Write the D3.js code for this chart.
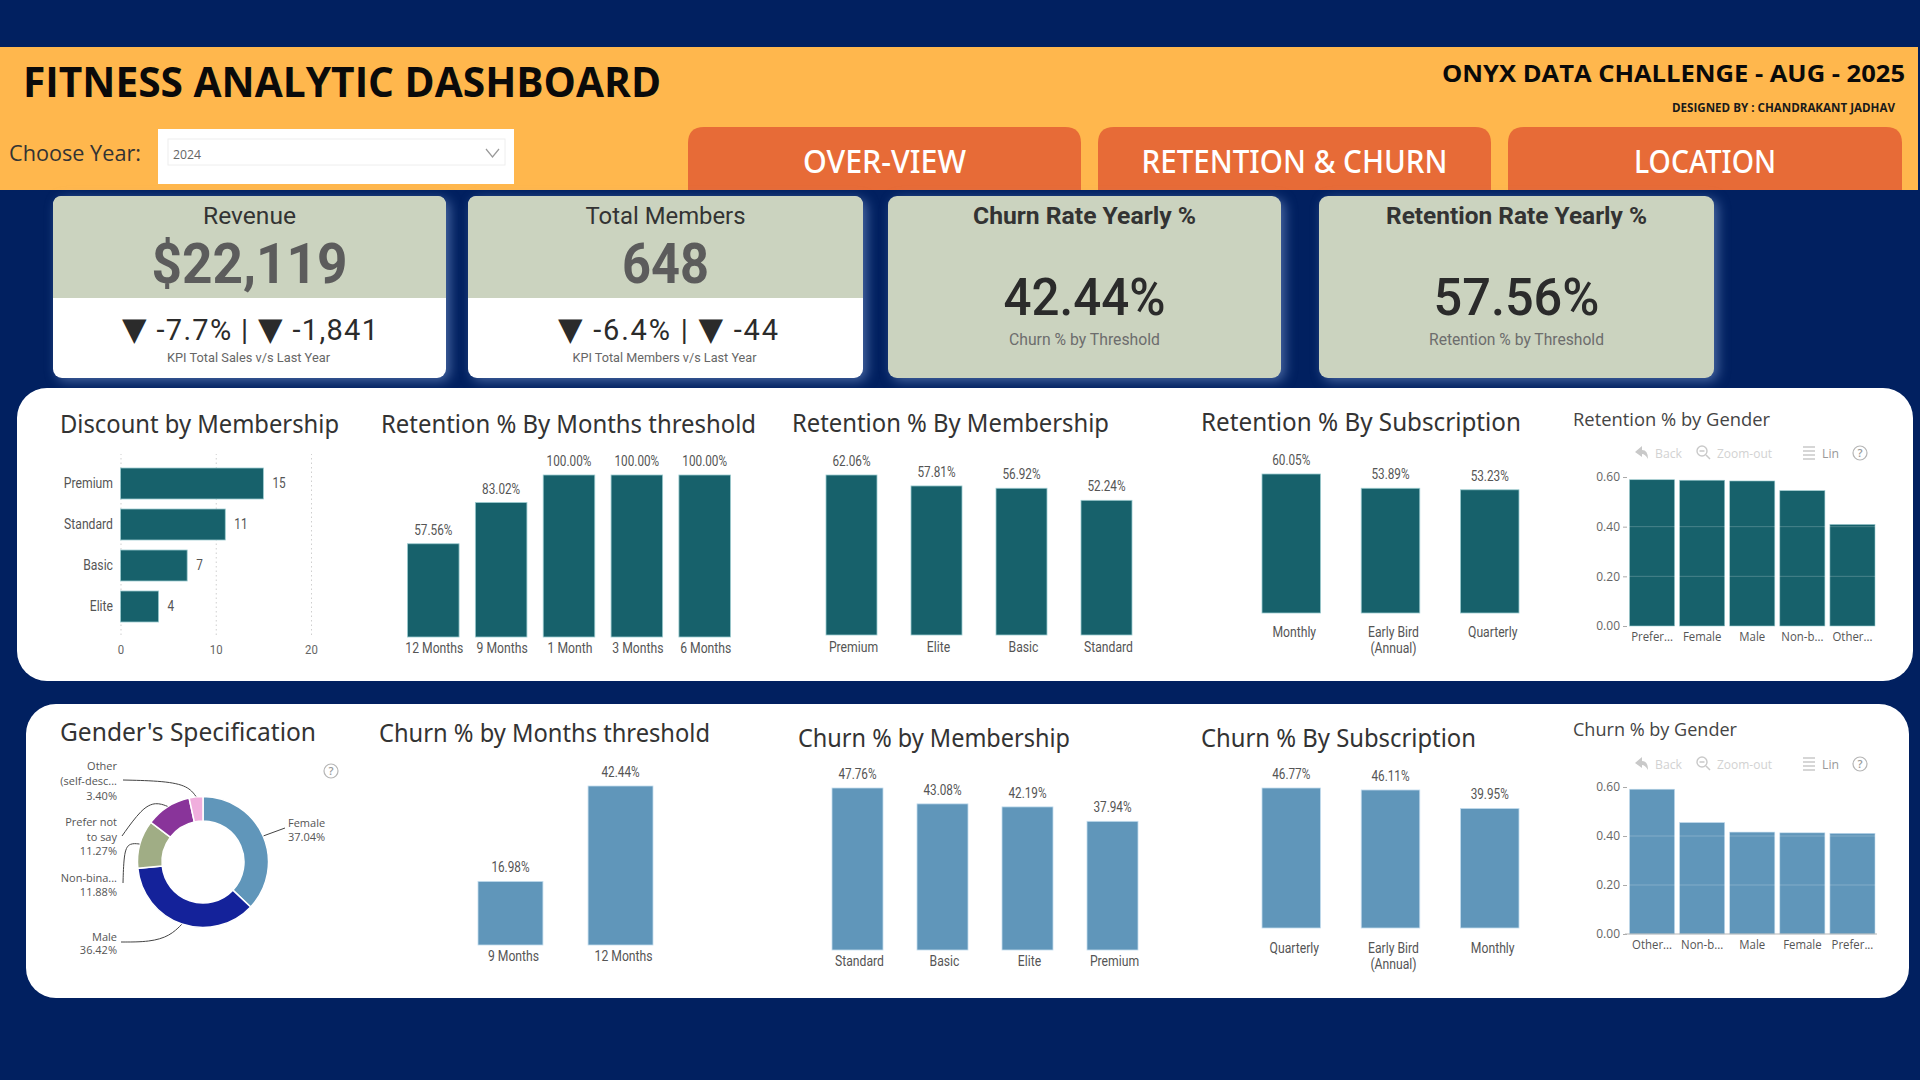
<!DOCTYPE html>
<html>
<head>
<meta charset="utf-8">
<title>Fitness Analytic Dashboard</title>
<script src="https://cdnjs.cloudflare.com/ajax/libs/d3/7.8.5/d3.min.js"></script>
<style>
  html, body { margin: 0; padding: 0; background: #012060; overflow: hidden; }
  svg { display: block; }
</style>
</head>
<body>
<svg id="dash" width="1920" height="1080"></svg>
<script>
// ---- Dashboard values ----
const discountCats = ["Premium", "Standard", "Basic", "Elite"];
const discountValues = [15, 11, 7, 4];
const discountTicks = [0, 10, 20];

const retentionMonthCats = ["12 Months", "9 Months", "1 Month", "3 Months", "6 Months"];
const retentionMonthValues = [57.56, 83.02, 100, 100, 100];
const retentionMemberCats = ["Premium", "Elite", "Basic", "Standard"];
const retentionMemberValues = [62.06, 57.81, 56.92, 52.24];
const retentionSubCats = ["Monthly", "Early Bird (Annual)", "Quarterly"];
const retentionSubValues = [60.05, 53.89, 53.23];
const retentionGenderCats = ["Prefer...", "Female", "Male", "Non-b...", "Other..."];
const retentionGenderValues = [0.589, 0.587, 0.584, 0.545, 0.409];

const genderCats = ["Female", "Male", "Non-binary", "Prefer not to say", "Other (self-described)"];
const genderValues = [37.04, 36.42, 11.88, 11.27, 3.40];

const churnMonthCats = ["9 Months", "12 Months"];
const churnMonthValues = [16.98, 42.44];
const churnMemberCats = ["Standard", "Basic", "Elite", "Premium"];
const churnMemberValues = [47.76, 43.08, 42.19, 37.94];
const churnSubCats = ["Quarterly", "Early Bird (Annual)", "Monthly"];
const churnSubValues = [46.77, 46.11, 39.95];
const churnGenderCats = ["Other...", "Non-b...", "Male", "Female", "Prefer..."];
const churnGenderValues = [0.591, 0.455, 0.416, 0.413, 0.411];
const genderAxisTicks = [0, 0.2, 0.4, 0.6];

// ---- Palette and type ----
const NAVY = "#012060", AMBER = "#FFB74D", ORANGE = "#E76B37", SAGE = "#CBD3BF";
const TEAL = "#17616B", TEAL_EDGE = "#9CCBCF", BLUE = "#6096BA", BLUE_EDGE = "#C4DDEE";
const HEAD = "'Open Sans', 'Noto Sans', sans-serif";
const TITLE = "'Noto Sans', 'Open Sans', sans-serif";
const NUM = "Roboto, 'Noto Sans', sans-serif";
const UI = "'Open Sans', 'Noto Sans', sans-serif";
const CONDENSE = 0.84;

const svg = d3.select("#dash");

// Places a text by its left edge, centre or right edge; width squeezes it to a measured run.
function label(parent, str, x, y, o = {}) {
  const t = parent.append("text")
    .attr("x", x).attr("y", y)
    .attr("text-anchor", o.anchor || "start")
    .attr("font-family", o.font || NUM)
    .attr("font-size", o.size || 14)
    .attr("font-weight", o.weight || 400)
    .attr("fill", o.fill || "#333")
    .text(str);
  if (o.width) t.attr("textLength", o.width).attr("lengthAdjust", "spacingAndGlyphs");
  return t;
}

// Narrows text elements in place, keeping the glyph height.
function condense(sel, factor = CONDENSE) {
  sel.each(function () {
    d3.select(this)
      .attr("textLength", this.getComputedTextLength() * factor)
      .attr("lengthAdjust", "spacingAndGlyphs");
  });
}

// Rounded-top shape for the navigation tabs and the upper half of the KPI cards.
function topRounded(x0, y0, x1, y1, r) {
  return `M${x0},${y1}V${y0 + r}Q${x0},${y0} ${x0 + r},${y0}H${x1 - r}Q${x1},${y0} ${x1},${y0 + r}V${y1}Z`;
}

// ---- Header band ----
const head = svg.append("g");
head.append("rect").attr("x", 0).attr("y", 47).attr("width", 1918).attr("height", 143).attr("fill", AMBER);
label(head, "FITNESS ANALYTIC DASHBOARD", 23, 97, { font: HEAD, size: 41, weight: 700, fill: "#0a0a0a", width: 638 });
label(head, "ONYX DATA CHALLENGE - AUG - 2025", 1442, 82, { font: HEAD, size: 23, weight: 700, fill: "#0a0a0a", width: 463 });
label(head, "DESIGNED BY : CHANDRAKANT JADHAV", 1672, 112, { font: HEAD, size: 12, weight: 700, fill: "#1a1a1a", width: 223 });
label(head, "Choose Year:", 9, 161, { font: UI, size: 22, fill: "#333", width: 132 });

head.append("rect").attr("x", 158).attr("y", 129).attr("width", 356).attr("height", 55).attr("fill", "#fff");
head.append("rect").attr("x", 168).attr("y", 139).attr("width", 337).attr("height", 26)
  .attr("fill", "#fff").attr("stroke", "#eeeeee");
label(head, "2024", 173, 159, { font: UI, size: 13, fill: "#666", width: 28 });
head.append("path").attr("d", "M486,149L492.5,157L499,149").attr("fill", "none").attr("stroke", "#999").attr("stroke-width", 1.2);

const navTabs = [
  { name: "OVER-VIEW", x0: 688, x1: 1081, w: 163 },
  { name: "RETENTION & CHURN", x0: 1098, x1: 1491, w: 306 },
  { name: "LOCATION", x0: 1508, x1: 1902, w: 142 }
];
navTabs.forEach(t => {
  head.append("path").attr("d", topRounded(t.x0, 127, t.x1, 190, 16)).attr("fill", ORANGE);
  label(head, t.name, (t.x0 + t.x1) / 2, 173, { font: TITLE, size: 32, weight: 500, fill: "#fff", anchor: "middle", width: t.w });
});

// ---- KPI cards ----
const glow = "drop-shadow(4px 3px 6px rgba(130,160,215,.55))";
function kpiSplit(c) {
  const g = svg.append("g");
  g.append("rect").attr("x", c.x0).attr("y", 196).attr("width", c.x1 - c.x0).attr("height", 182)
    .attr("rx", 9).attr("fill", "#fff").style("filter", glow);
  g.append("path").attr("d", topRounded(c.x0, 196, c.x1, 298, 9)).attr("fill", SAGE);
  const cx = (c.x0 + c.x1) / 2;
  label(g, c.title, cx, 224, { size: 23, fill: "#333", anchor: "middle", width: c.titleW });
  label(g, c.value, cx, 283, { size: 56, weight: 700, fill: "#5c5c5c", anchor: "middle", width: c.valueW });

  // Arrow glyphs come from DejaVu so they read as the large KPI triangles.
  const d = g.append("text").attr("x", c.deltaX).attr("y", 340)
    .attr("font-family", NUM).attr("font-size", 29).attr("fill", "#2b2b2b")
    .attr("textLength", c.deltaW).attr("lengthAdjust", "spacing");
  c.delta.forEach(part => {
    const s = d.append("tspan").text(part);
    if (part === "▼") s.attr("font-family", "'DejaVu Sans'").attr("font-size", 32);
  });

  label(g, c.sub, cx - 1, 362, { size: 13.5, fill: "#666", anchor: "middle", width: c.subW });
}
function kpiFull(c) {
  const g = svg.append("g");
  g.append("rect").attr("x", c.x0).attr("y", 196).attr("width", c.x1 - c.x0).attr("height", 182)
    .attr("rx", 9).attr("fill", SAGE).style("filter", glow);
  const cx = (c.x0 + c.x1) / 2;
  label(g, c.title, cx, 224, { size: 23, weight: 700, fill: "#333", anchor: "middle", width: c.titleW });
  label(g, c.value, cx, 315, { size: 52, weight: 500, fill: "#2b2b2b", anchor: "middle", width: c.valueW });
  label(g, c.sub, cx, 345, { size: 17, fill: "#6d6d6d", anchor: "middle", width: c.subW });
}
kpiSplit({ x0: 53, x1: 446, title: "Revenue", titleW: 93, value: "$22,119", valueW: 196,
  delta: ["▼", " -7.7% | ", "▼", " -1,841"], deltaX: 122, deltaW: 256, sub: "KPI Total Sales v/s Last Year", subW: 163 });
kpiSplit({ x0: 468, x1: 863, title: "Total Members", titleW: 160, value: "648", valueW: 87,
  delta: ["▼", " -6.4% | ", "▼", " -44"], deltaX: 558, deltaW: 220, sub: "KPI Total Members v/s Last Year", subW: 184 });
kpiFull({ x0: 888, x1: 1281, title: "Churn Rate Yearly %", titleW: 223, value: "42.44%", valueW: 162,
  sub: "Churn % by Threshold", subW: 151 });
kpiFull({ x0: 1319, x1: 1714, title: "Retention Rate Yearly %", titleW: 261, value: "57.56%", valueW: 166,
  sub: "Retention % by Threshold", subW: 175 });

// ---- White panels ----
svg.append("rect").attr("x", 17).attr("y", 388).attr("width", 1896).attr("height", 293).attr("rx", 30).attr("fill", "#fff");
svg.append("rect").attr("x", 26).attr("y", 704).attr("width", 1883).attr("height", 294).attr("rx", 30).attr("fill", "#fff");

const titles = [
  ["Discount by Membership", 60, 433, 279], ["Retention % By Months threshold", 381, 433, 375],
  ["Retention % By Membership", 792, 432, 317], ["Retention % By Subscription", 1201, 431, 320],
  ["Gender's Specification", 60, 741, 256], ["Churn % by Months threshold", 379, 742, 331],
  ["Churn % by Membership", 798, 747, 272], ["Churn % By Subscription", 1201, 747, 275]
];
titles.forEach(([s, x, y, w]) => label(svg, s, x, y, { font: TITLE, size: 26, fill: "#333", width: w }));
label(svg, "Retention % by Gender", 1573, 426, { font: UI, size: 18, fill: "#444", width: 197 });
label(svg, "Churn % by Gender", 1573, 736, { font: UI, size: 18, fill: "#444", width: 164 });

// ---- Column charts ----
function columnChart(c) {
  const x = d3.scaleBand().domain(c.cats).range(c.xr).paddingInner(c.pad).paddingOuter(0);
  const y = d3.scaleLinear().domain([0, c.max]).range(c.yr);
  const g = svg.append("g");
  const rows = c.cats.map((k, i) => ({ k, v: c.values[i] }));

  g.selectAll("rect.bar").data(rows).join("rect").attr("class", "bar")
    .attr("x", d => x(d.k)).attr("width", x.bandwidth())
    .attr("y", d => y(d.v)).attr("height", d => y(0) - y(d.v))
    .attr("fill", c.color).attr("stroke", c.edge).attr("stroke-width", 0.8);

  g.selectAll("text.val").data(rows).join("text").attr("class", "val")
    .attr("x", d => x(d.k) + x.bandwidth() / 2)
    .attr("y", d => y(d.v) - 9)
    .attr("text-anchor", "middle")
    .attr("font-family", NUM).attr("font-size", 14).attr("fill", "#555")
    .text(d => d3.format(".2f")(d.v) + "%")
    .call(condense);

  // Category labels; the parenthesised part of a long label drops to a second line.
  const axis = g.append("g").attr("transform", `translate(${c.labelDx},${c.yr[0]})`)
    .call(d3.axisBottom(x).tickSize(0));
  axis.select(".domain").remove();
  axis.selectAll("text")
    .attr("font-family", NUM).attr("font-size", 14.5).attr("fill", "#555")
    .attr("y", c.labelY - c.yr[0]).attr("dy", "0.35em")
    .each(function (d) {
      const parts = d.split(" (");
      const t = d3.select(this).text(null);
      t.append("tspan").attr("x", 0).text(parts[0]);
      if (parts.length === 2) t.append("tspan").attr("x", 0).attr("dy", "1.1em").text("(" + parts[1]);
      t.selectAll("tspan").call(condense);
    });
}
const TEAL_STYLE = { color: TEAL, edge: TEAL_EDGE };
const BLUE_STYLE = { color: BLUE, edge: BLUE_EDGE };
columnChart({ ...TEAL_STYLE, cats: retentionMonthCats, values: retentionMonthValues, max: 100, xr: [407.5, 730.5], pad: 0.24, yr: [637, 475], labelY: 648, labelDx: 1 });
columnChart({ ...TEAL_STYLE, cats: retentionMemberCats, values: retentionMemberValues, max: 62.06, xr: [826, 1132], pad: 0.4, yr: [635, 475], labelY: 647, labelDx: 2 });
columnChart({ ...TEAL_STYLE, cats: retentionSubCats, values: retentionSubValues, max: 60.05, xr: [1262, 1519], pad: 0.41, yr: [613, 474], labelY: 632, labelDx: 3 });
columnChart({ ...BLUE_STYLE, cats: churnMonthCats, values: churnMonthValues, max: 42.44, xr: [478, 653], pad: 0.41, yr: [945, 786], labelY: 956, labelDx: 3 });
columnChart({ ...BLUE_STYLE, cats: churnMemberCats, values: churnMemberValues, max: 47.76, xr: [832, 1138], pad: 0.4, yr: [950, 788], labelY: 961, labelDx: 2 });
columnChart({ ...BLUE_STYLE, cats: churnSubCats, values: churnSubValues, max: 46.77, xr: [1262, 1519], pad: 0.41, yr: [928, 788], labelY: 948, labelDx: 3 });

// ---- Discount bar chart ----
(function () {
  const x = d3.scaleLinear().domain([0, 20]).range([120.5, 311]);
  const y = d3.scaleBand().domain(discountCats).range([468, 622]).paddingInner(0.244).paddingOuter(0);
  const g = svg.append("g");
  const rows = discountCats.map((k, i) => ({ k, v: discountValues[i] }));

  const grid = g.append("g").attr("transform", "translate(0,635)")
    .call(d3.axisBottom(x).tickValues(discountTicks).tickSize(-181).tickFormat(d3.format("d")));
  grid.select(".domain").remove();
  grid.selectAll("line").attr("stroke", "#cfcfcf").attr("stroke-dasharray", "1.5 3");
  grid.selectAll("text").attr("font-family", NUM).attr("font-size", 13.5).attr("fill", "#666")
    .attr("y", 14).attr("dy", "0.35em").call(condense);

  g.selectAll("rect.bar").data(rows).join("rect").attr("class", "bar")
    .attr("x", x(0)).attr("y", d => y(d.k))
    .attr("width", d => x(d.v) - x(0)).attr("height", y.bandwidth())
    .attr("fill", TEAL).attr("stroke", TEAL_EDGE).attr("stroke-width", 0.8);
  g.selectAll("text.val").data(rows).join("text").attr("class", "val")
    .attr("x", d => x(d.v) + 9).attr("y", d => y(d.k) + y.bandwidth() / 2).attr("dy", "0.35em")
    .attr("font-family", NUM).attr("font-size", 14).attr("fill", "#555").text(d => d.v).call(condense);

  const cat = g.append("g").attr("transform", "translate(113,0)").call(d3.axisLeft(y).tickSize(0).tickPadding(0));
  cat.select(".domain").remove();
  cat.selectAll("text").attr("font-family", NUM).attr("font-size", 14.5).attr("fill", "#555").call(condense);
})();

// ---- Gender charts with their viewer toolbar ----
function toolbar(g, cy) {
  const grey = "#c9c9c9", tg = g.append("g");
  tg.append("path").attr("d", `M1635,${cy - 1}L1642,${cy - 7}V${cy - 3}Q1648,${cy - 3} 1648,${cy + 6}Q1645,${cy + 1} 1642,${cy + 1}V${cy + 4}Z`).attr("fill", grey);
  label(tg, "Back", 1655, cy + 5, { font: UI, size: 13, fill: "#d2d2d2", width: 27 });
  tg.append("circle").attr("cx", 1702).attr("cy", cy - 2).attr("r", 5).attr("fill", "none").attr("stroke", grey).attr("stroke-width", 1.4);
  tg.append("path").attr("d", `M1699.5,${cy - 2}H1704.5M1706,${cy + 2}L1710,${cy + 6}`).attr("stroke", grey).attr("stroke-width", 1.5);
  label(tg, "Zoom-out", 1717, cy + 5, { font: UI, size: 13, fill: "#d2d2d2", width: 55 });
  [-6, -2, 2, 6].forEach(d => {
    tg.append("line").attr("x1", 1803).attr("x2", 1815).attr("y1", cy + d).attr("y2", cy + d).attr("stroke", "#bbb").attr("stroke-width", 1.2);
  });
  label(tg, "Lin", 1822, cy + 5, { font: UI, size: 13, fill: "#999", width: 17 });
  helpIcon(tg, 1860, cy);
}
function helpIcon(g, cx, cy) {
  g.append("circle").attr("cx", cx).attr("cy", cy).attr("r", 7).attr("fill", "none").attr("stroke", "#b5b5b5").attr("stroke-width", 1.2);
  label(g, "?", cx, cy + 4, { font: UI, size: 11, weight: 600, fill: "#999", anchor: "middle" });
}
function genderChart(c) {
  const x = d3.scaleBand().domain(c.cats).range([1629.5, 1875]).paddingInner(0.1).paddingOuter(0);
  const y = d3.scaleLinear().domain([0, 0.6]).range(c.yr);
  const g = svg.append("g");
  const rows = c.cats.map((k, i) => ({ k, v: c.values[i] }));

  toolbar(g, c.toolY);

  g.selectAll("rect.bar").data(rows).join("rect").attr("class", "bar")
    .attr("x", d => x(d.k)).attr("width", x.bandwidth())
    .attr("y", d => y(d.v)).attr("height", d => y(0) - y(d.v))
    .attr("fill", c.color).attr("stroke", c.edge).attr("stroke-width", 0.6);

  // Faint guide lines run across the columns.
  g.selectAll("line.guide").data(genderAxisTicks.slice(1)).join("line").attr("class", "guide")
    .attr("x1", 1627).attr("x2", 1876).attr("y1", d => y(d)).attr("y2", d => y(d))
    .attr("stroke", "#fff").attr("stroke-opacity", 0.22);

  const yAxis = g.append("g").attr("transform", "translate(1627,0)")
    .call(d3.axisLeft(y).tickValues(genderAxisTicks).tickFormat(d3.format(".2f")).tickSize(4).tickPadding(3));
  yAxis.select(".domain").remove();
  yAxis.selectAll("line").attr("stroke", "#aaa");
  yAxis.selectAll("text").attr("font-family", UI).attr("font-size", 12).attr("fill", "#666");

  if (c.baseLine) {
    g.append("line").attr("x1", 1625).attr("x2", 1877).attr("y1", y(0)).attr("y2", y(0)).attr("stroke", "#b5b5b5");
  }

  const xAxis = g.append("g").attr("transform", `translate(0,${c.yr[0]})`).call(d3.axisBottom(x).tickSize(0));
  xAxis.select(".domain").remove();
  xAxis.selectAll("text").attr("font-family", UI).attr("font-size", 12).attr("fill", "#555")
    .attr("y", c.labelY - c.yr[0]).attr("dy", "0.35em").call(condense, 0.95);
}
genderChart({ ...TEAL_STYLE, cats: retentionGenderCats, values: retentionGenderValues, yr: [626, 477], toolY: 453, labelY: 637, baseLine: false });
genderChart({ ...BLUE_STYLE, cats: churnGenderCats, values: churnGenderValues, yr: [934, 787], toolY: 764, labelY: 945, baseLine: true });

// ---- Gender donut ----
(function () {
  const cx = 203, cy = 862;
  const colors = ["#6096BA", "#14229A", "#A0AD85", "#89349A", "#F0AEDD"];
  const callouts = [
    { lines: ["Female", "37.04%"], x: 288, anchor: "start", ys: [827, 841], path: [[285, 828]] },
    { lines: ["Male", "36.42%"], x: 117, anchor: "end", ys: [941, 954], path: [[121, 942], [150, 942], [170, 936]] },
    { lines: ["Non-bina...", "11.88%"], x: 117, anchor: "end", ys: [882, 896], path: [[123, 883], [124, 850], [130, 843]] },
    { lines: ["Prefer not", "to say", "11.27%"], x: 117, anchor: "end", ys: [826, 841, 855], path: [[122, 836], [142, 808], [156, 802]] },
    { lines: ["Other", "(self-desc...", "3.40%"], x: 117, anchor: "end", ys: [770, 785, 800], path: [[123, 780], [165, 781], [188, 786]] }
  ];
  const g = svg.append("g");
  const pie = d3.pie().sort(null).value(d => d);
  const arcs = pie(genderValues);
  const arc = d3.arc().innerRadius(41).outerRadius(65.5);
  const rim = d3.arc().innerRadius(66).outerRadius(66);
  const leader = d3.line().curve(d3.curveBasis);

  g.selectAll("path.slice").data(arcs).join("path").attr("class", "slice")
    .attr("transform", `translate(${cx},${cy})`)
    .attr("d", arc).attr("fill", (d, i) => colors[i])
    .attr("stroke", "#fff").attr("stroke-width", 1.5);

  arcs.forEach((a, i) => {
    const [ax, ay] = rim.centroid(a);
    const c = callouts[i];
    g.append("path").attr("fill", "none").attr("stroke", "#444").attr("stroke-width", 1)
      .attr("d", leader([...c.path, [cx + ax, cy + ay]]));
    c.lines.forEach((s, j) => label(g, s, c.x, c.ys[j], { font: UI, size: 11, fill: "#555", anchor: c.anchor }));
  });

  helpIcon(g, 331, 771);
})();
</script>
</body>
</html>
